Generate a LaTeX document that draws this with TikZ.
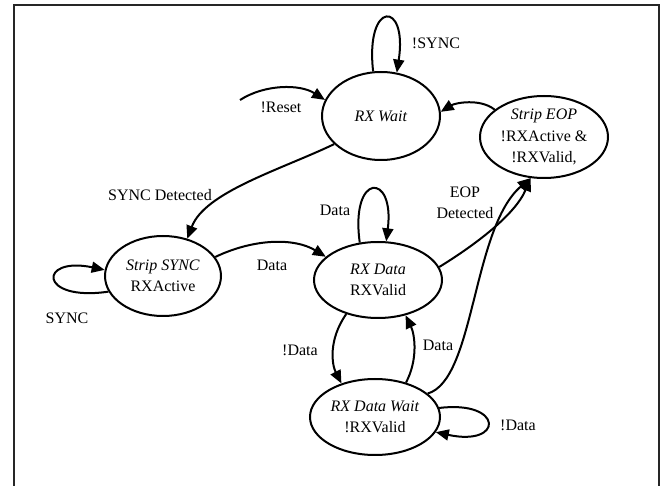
\documentclass[tikz,border=0pt]{standalone}
\usepackage{fontspec}
\setmainfont{Liberation Serif}
\usetikzlibrary{shapes.geometric,arrows.meta}
\begin{document}
\begin{tikzpicture}[x=1pt,y=-1pt,
  every node/.style={font=\fontsize{16}{21.5}\selectfont},
  state/.style={draw,ellipse,line width=2pt,inner sep=0pt,align=center},
  lbl/.style={inner sep=0pt,align=center},
  edge/.style={line width=2pt,-{Triangle[length=13pt,width=11pt]}}]
\useasboundingbox (0,0) rectangle (665,486);
\draw[line width=2.2pt,black!85] (14,486) -- (14,5) -- (659,5) -- (659,486);
% states
\node[state,minimum width=118pt,minimum height=88pt] (rw) at (381,116) {\textit{RX Wait}};
\node[state,minimum width=128pt,minimum height=82pt] (se) at (544,137) {\textit{Strip EOP}\\!RXActive \&\\!RXValid,};
\node[state,minimum width=116pt,minimum height=80pt] (ss) at (163,276) {\textit{Strip SYNC}\\RXActive};
\node[state,minimum width=128pt,minimum height=76pt] (rd) at (378,280) {\textit{RX Data}\\RXValid};
\node[state,minimum width=130pt,minimum height=76pt] (rdw) at (375,417) {\textit{RX Data Wait}\\!RXValid};
\coordinate (rs) at (240,100);
% edges
\draw[edge] (rw.100) .. controls (365,0) and (408,0) .. (rw.70);
\draw[edge] (rs) .. controls (265,84) and (300,84) .. (rw.164);
\draw[edge] (rw.211) .. controls (280,170) and (205,192) .. (ss.57);
\draw[edge] (ss.196) .. controls (38,302) and (38,256) .. (ss.174);
\draw[edge] (ss.20) .. controls (255,238) and (295,238) .. (rd.156);
\draw[edge] (rd.116) .. controls (350,172) and (395,172) .. (rd.78);
\draw[edge] (rd.12) .. controls (475,245) and (515,215) .. (se.252);
\draw[edge] (rdw.24) .. controls (475,380) and (472,228) .. (se.252);
\draw[edge] (se.151) .. controls (480,98) and (455,103) .. (rw.4);
\draw[edge] (rd.227) .. controls (328,340) and (332,365) .. (rdw.135);
\draw[edge] (rdw.48) .. controls (418,360) and (415,335) .. (rd.308);
\draw[edge] (rdw.8) .. controls (504,400) and (504,447) .. (rdw.346);
% labels
\node[lbl] (l1) at (436,43) {!SYNC};
\node[lbl] (l2) at (281,107) {!Reset};
\node[lbl] (l3) at (160,195) {SYNC Detected};
\node[lbl] (l4) at (67,318) {SYNC};
\node[lbl] (l5) at (272,265) {Data};
\node[lbl] (l6) at (335,210) {Data};
\node[lbl] (l7) at (465,203) {EOP\\Detected};
\node[lbl] (l8) at (300,350) {!Data};
\node[lbl] (l9) at (438,345) {Data};
\node[lbl] (l10) at (518,425) {!Data};
\end{tikzpicture}
\end{document}
